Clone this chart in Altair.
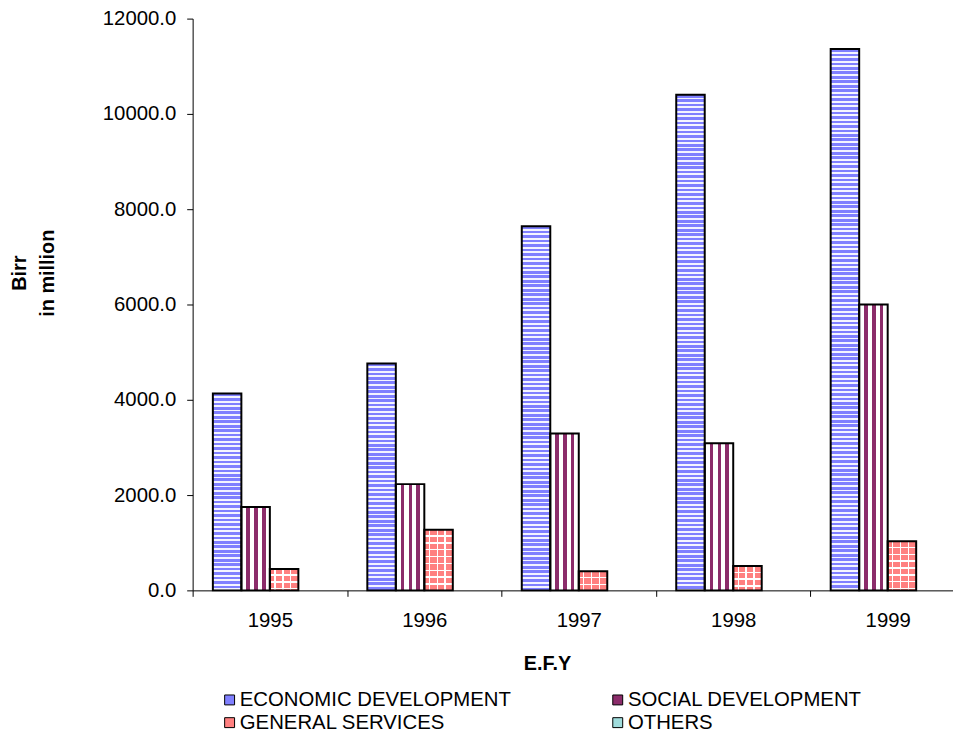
import altair as alt
import pandas as pd

years = ["1995", "1996", "1997", "1998", "1999"]
series = ["ECONOMIC DEVELOPMENT", "SOCIAL DEVELOPMENT", "GENERAL SERVICES", "OTHERS"]
economic = [4130, 4760, 7640, 10400, 11360]
social = [1750, 2230, 3290, 3090, 6000]
general = [450, 1270, 400, 510, 1030]
others = [0, 0, 0, 0, 0]
y_ticks = [0, 2000, 4000, 6000, 8000, 10000, 12000]

colors = ["#8080FF", "#8B2C6A", "#FF8080", "#A0DCDC"]
FONT = "Liberation Sans"

rows = []
for i, yr in enumerate(years):
    for s, vals in zip(series, [economic, social, general, others]):
        rows.append({"year": yr, "series": s, "value": vals[i]})
df = pd.DataFrame(rows)

PLOT_H = 576
YMAX = 12000
PX_PER_UNIT = PLOT_H / YMAX


def stops_expr(stops):
    return "[" + ",".join("{offset:%.5f,color:'%s'}" % (o, c) for o, c in stops) + "]"


def striped(n, frac_a, col_a, col_b):
    st = []
    for i in range(n):
        o0 = i / n
        o1 = (i + frac_a) / n
        o2 = (i + 1) / n
        st += [(o0, col_a), (o1, col_a), (o1, col_b), (o2, col_b)]
    return st


# horizontal stripes for economic development (period ~4.5px)
N_E, P_E = 130, 4.5
K_E = N_E * P_E / PX_PER_UNIT
econ_expr = "{gradient:'linear',x1:0,y1:0,x2:0,y2:%.3f/datum.value,stops:%s}" % (
    K_E, stops_expr(striped(N_E, 0.6, colors[0], "#F4F4FF")))

# horizontal white lines for general services (period ~6.9px)
N_G, P_G = 24, 6.9
K_G = N_G * P_G / PX_PER_UNIT
gen_h_expr = "{gradient:'linear',x1:0,y1:0,x2:0,y2:%.3f/datum.value,stops:%s}" % (
    K_G, stops_expr(striped(N_G, 0.8, "rgba(255,255,255,0)", "#FFFFFF")))


def band_stops(bands, base, band_col):
    st = [(0.0, base)]
    for a, b in bands:
        st += [(a, base), (a, band_col), (b, band_col), (b, base)]
    st.append((1.0, base))
    return [{"offset": o, "color": c} for o, c in st]


social_fill = {"gradient": "linear", "x1": 0, "y1": 0, "x2": 1, "y2": 0,
               "stops": band_stops([(0.17, 0.30), (0.45, 0.58), (0.72, 0.85)], "#FFFFFF", colors[1])}
gen_v_fill = {"gradient": "linear", "x1": 0, "y1": 0, "x2": 1, "y2": 0,
              "stops": band_stops([(0.15, 0.20), (0.43, 0.48), (0.70, 0.75)], colors[2], "#FFFFFF")}

x_enc = alt.X(
    "year:N",
    scale=alt.Scale(domain=years, paddingInner=0, paddingOuter=0, range=[0, 778]),
    axis=alt.Axis(
        title="E.F.Y", labelAngle=0, tickBand="extent", tickSize=6, labelPadding=14,
        titleX=357, titleY=74, titleBaseline="middle", titleFontWeight="bold",
        titleFontSize=20, labelFontSize=20.5, domainColor="#000000", tickColor="#000000",
        labelColor="#000000", titleColor="#000000", labelFont=FONT, titleFont=FONT,
    ),
)
xo_enc = alt.XOffset("series:N", scale=alt.Scale(domain=series, paddingInner=0, paddingOuter=0.71))
y_enc = alt.Y(
    "value:Q",
    scale=alt.Scale(domain=[0, YMAX], nice=False),
    axis=alt.Axis(
        title=["Birr", "in million"], values=y_ticks, format=".1f", grid=False,
        tickSize=6, labelPadding=11, titleAngle=270, titleX=-174, titleY=256,
        titleBaseline="middle", titleLineHeight=28, titleFontWeight="bold",
        titleFontSize=20, labelFontSize=20.5, domainColor="#000000", tickColor="#000000",
        labelColor="#000000", titleColor="#000000", labelFont=FONT, titleFont=FONT,
    ),
)

base = alt.Chart(df).transform_filter(alt.datum.series != "OTHERS").encode(
    x=x_enc, xOffset=xo_enc, y=y_enc)

legend_layer = base.mark_bar().encode(
    color=alt.Color(
        "series:N",
        scale=alt.Scale(domain=series, range=colors),
        legend=alt.Legend(
            title=None, orient="none", legendX=27, legendY=676, columns=2,
            direction="horizontal",
            columnPadding=97, rowPadding=2, symbolType="square", symbolSize=100,
            symbolStrokeColor="#000000", symbolStrokeWidth=1, symbolOpacity=1,
            labelFontSize=20.5, labelFont=FONT, labelColor="#000000", labelOffset=0,
            labelLimit=500,
        ),
    )
)

econ_layer = base.transform_filter(alt.datum.series == series[0]).mark_bar(
    fill={"expr": econ_expr})
social_layer = base.transform_filter(alt.datum.series == series[1]).mark_bar(
    fill=social_fill)
gen_v_layer = base.transform_filter(alt.datum.series == series[2]).mark_bar(
    fill=gen_v_fill)
gen_h_layer = base.transform_filter(alt.datum.series == series[2]).mark_bar(
    fill={"expr": gen_h_expr})
border_layer = base.mark_bar(fill="transparent", stroke="#000000", strokeWidth=2)

chart = alt.layer(
    legend_layer, econ_layer, social_layer, gen_v_layer, gen_h_layer, border_layer
).properties(
    width=766, height=PLOT_H,
    autosize=alt.AutoSizeParams(type="none"),
    padding={"left": 186, "top": 8, "right": 0, "bottom": 142},
    background="#FFFFFF",
).configure_view(stroke="transparent")

chart.save("out.html", embed_options={"renderer": "svg", "actions": False})
